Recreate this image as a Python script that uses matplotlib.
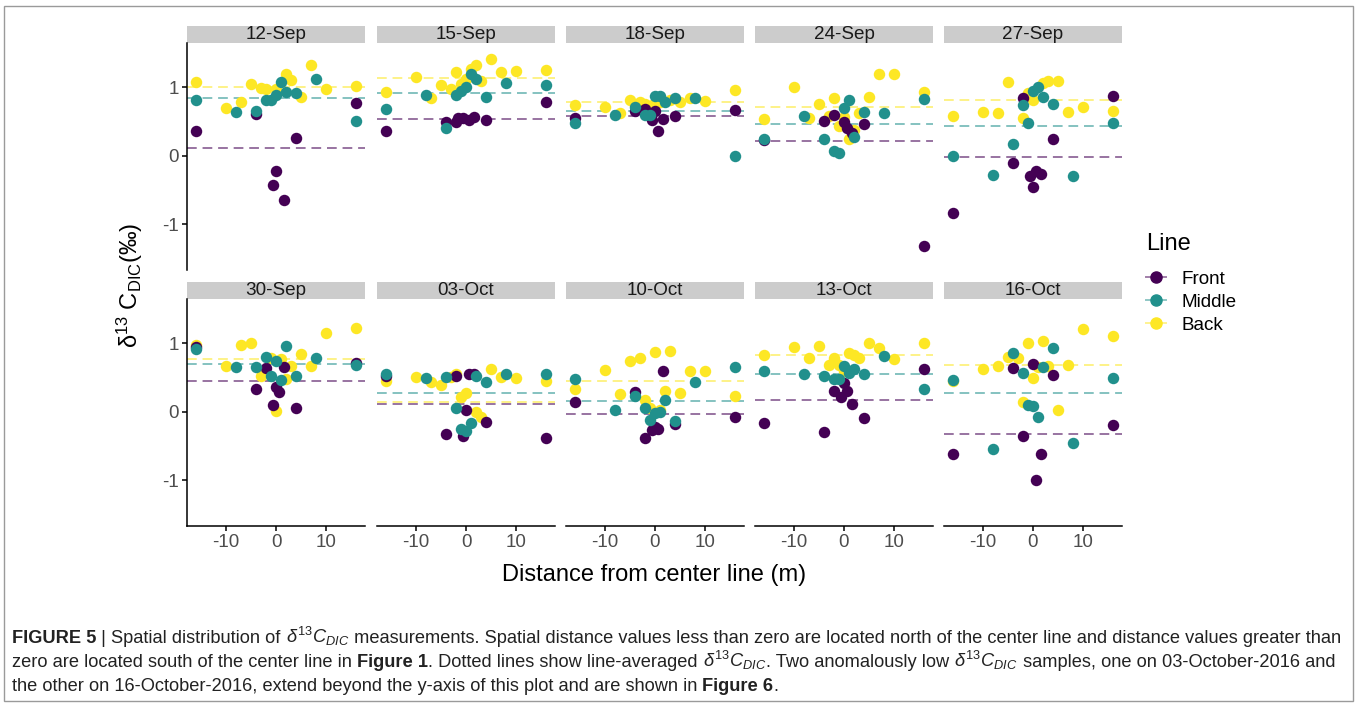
import numpy as np
import matplotlib
matplotlib.use("Agg")
import matplotlib.pyplot as plt
from matplotlib.patches import Rectangle
from matplotlib.lines import Line2D

plt.rcParams["font.family"] = ["Liberation Sans", "DejaVu Sans"]
plt.rcParams["axes.unicode_minus"] = False
plt.rcParams["mathtext.fontset"] = "custom"
plt.rcParams["mathtext.rm"] = "Liberation Sans"
plt.rcParams["mathtext.it"] = "Liberation Sans:italic"

dates = ["12-Sep", "15-Sep", "18-Sep", "24-Sep", "27-Sep",
         "30-Sep", "03-Oct", "10-Oct", "13-Oct", "16-Oct"]

# Front line samples, one list per date
front_x = [[-16, -4, 0, -0.5, 1.5, 4, 16],
           [-16, -4, -2, -1.5, -0.5, 0.5, 1.5, 4, 16],
           [-16, -4, -2, -0.5, 0, 0.5, 1.5, 4, 16],
           [-16, -4, -2, 0, 0.5, 1.5, 4, 16],
           [-16, -4, -2, -0.5, 0, 0.5, 1.5, 4, 16],
           [-16, -4, -2, -0.5, 0, 0.5, 1.5, 4, 16],
           [-16, -4, -2, -0.5, 0, 0.5, 1.5, 4, 16],
           [-16, -4, -2, -0.5, 0, 0.5, 1.5, 4, 16],
           [-16, -4, -2, -0.5, 0, 0.5, 1.5, 4, 16],
           [-16, -4, -2, 0, 0.5, 1.5, 4, 16]]
front_y = [[0.36, 0.61, -0.22, -0.42, -0.65, 0.26, 0.77],
           [0.36, 0.50, 0.50, 0.56, 0.56, 0.53, 0.57, 0.52, 0.79],
           [0.56, 0.65, 0.69, 0.53, 0.65, 0.37, 0.54, 0.58, 0.67],
           [0.23, 0.51, 0.60, 0.50, 0.41, 0.34, 0.47, -1.32],
           [-0.83, -0.11, 0.84, -0.30, -0.45, -0.22, -0.26, 0.24, 0.87],
           [0.95, 0.33, 0.64, 0.10, 0.36, 0.29, 0.66, 0.05, 0.72],
           [0.52, -0.33, 0.52, -0.35, 0.03, 0.55, 0.55, -0.15, -0.38],
           [0.14, 0.29, -0.39, -0.27, -0.22, -0.25, 0.59, -0.18, -0.08],
           [-0.16, -0.29, 0.31, 0.21, 0.42, 0.31, 0.11, -0.09, 0.62],
           [-0.61, 0.64, -0.35, 0.70, -1.00, -0.62, 0.54, -0.20]]

middle_x = [-16, -8, -4, -2, -1, 0, 1, 2, 4, 8, 16]
middle_y = [[0.81, 0.64, 0.65, 0.82, 0.81, 0.89, 1.08, 0.93, 0.92, 1.13, 0.51],
            [0.68, 0.89, 0.40, 0.89, 0.95, 1.00, 1.20, 1.12, 0.86, 1.07, 1.03],
            [0.48, 0.60, 0.72, 0.59, 0.59, 0.88, 0.88, 0.78, 0.85, 0.84, -0.01],
            [0.25, 0.58, 0.24, 0.07, 0.04, 0.70, 0.82, 0.28, 0.64, 0.62, 0.83],
            [0.00, -0.28, 0.17, 0.75, 0.48, 0.95, 1.00, 0.86, 0.76, -0.30, 0.48],
            [0.92, 0.66, 0.66, 0.80, 0.53, 0.75, 0.46, 0.96, 0.52, 0.79, 0.68],
            [0.56, 0.50, 0.51, 0.06, -0.25, -0.28, -0.17, 0.52, 0.44, 0.55, 0.56],
            [0.48, 0.03, 0.23, 0.06, -0.12, -0.02, 0.00, 0.18, -0.14, 0.44, 0.65],
            [0.59, 0.56, 0.52, 0.48, 0.48, 0.67, 0.57, 0.62, 0.56, 0.81, 0.33],
            [0.47, -0.55, 0.86, 0.57, 0.10, 0.08, -0.07, 0.66, 0.94, -0.45, 0.49]]

back_x = [[-16, -10, -7, -5, -3, -2, 0, 2, 3, 5, 7, 10, 16],
          [-16, -10, -7, -5, -3, -2, -1, 0, 1, 2, 3, 5, 7, 10, 16],
          [-16, -10, -7, -5, -3, -2, -0.5, 1, 3, 5, 7, 10, 16],
          [-16, -10, -7, -5, -3, -2, -1, 0, 1, 2, 3, 5, 7, 10, 16],
          [-16, -10, -7, -5, -2, -1, 0, 2, 3, 5, 7, 10, 16],
          [-16, -10, -7, -5, -3, -1, 0, 1, 2, 3, 5, 7, 10, 16],
          [-16, -10, -7, -5, -3, -2, -1, 0, 2, 3, 5, 7, 10, 16],
          [-16, -10, -7, -5, -3, -2, -1, 0, 1, 2, 3, 5, 7, 10, 16],
          [-16, -10, -7, -5, -3, -2, -1, 0, 1, 2, 3, 5, 7, 10, 16],
          [-16, -10, -7, -5, -3, -2, -1, 0, 1, 2, 3, 5, 7, 10, 16]]
back_y = [[1.08, 0.70, 0.79, 1.05, 0.99, 0.98, 0.97, 1.19, 1.11, 0.86, 1.33, 0.98, 1.02],
          [0.93, 1.15, 0.84, 1.03, 0.97, 1.22, 1.05, 1.12, 1.27, 1.33, 1.09, 1.41, 1.22, 1.24, 1.26],
          [0.75, 0.72, 0.63, 0.82, 0.78, 0.76, 0.75, 0.79, 0.82, 0.79, 0.84, 0.80, 0.96],
          [0.54, 1.00, 0.55, 0.76, 0.58, 0.84, 0.43, 0.57, 0.25, 0.38, 0.62, 0.86, 1.19, 1.19, 0.94],
          [0.58, 0.64, 0.63, 1.08, 0.55, 0.92, 0.82, 1.07, 1.09, 1.09, 0.64, 0.72, 0.65],
          [0.97, 0.67, 0.98, 1.00, 0.53, 0.79, 0.01, 0.77, 0.48, 0.67, 0.84, 0.67, 1.15, 1.23],
          [0.45, 0.51, 0.44, 0.39, 0.51, 0.55, 0.22, 0.28, 0.00, -0.07, 0.63, 0.51, 0.50, 0.45],
          [0.33, 0.61, 0.26, 0.74, 0.79, 0.17, 0.05, 0.87, 0.03, 0.30, 0.89, 0.28, 0.59, 0.60, 0.23],
          [0.83, 0.95, 0.78, 0.96, 0.69, 0.78, 0.68, 0.59, 0.86, 0.83, 0.78, 1.00, 0.94, 0.77, 1.00],
          [0.45, 0.62, 0.67, 0.80, 0.78, 0.14, 1.00, 0.49, 0.65, 1.04, 0.67, 0.02, 0.69, 1.21, 1.11]]

# line-averaged values (dashed lines)
front_mean = [0.11, 0.54, 0.58, 0.22, -0.02, 0.45, 0.11, -0.03, 0.17, -0.33]
middle_mean = [0.84, 0.92, 0.66, 0.46, 0.44, 0.70, 0.28, 0.16, 0.56, 0.28]
back_mean = [1.00, 1.14, 0.79, 0.72, 0.81, 0.77, 0.14, 0.45, 0.83, 0.68]

line_names = ["Front", "Middle", "Back"]
line_colors = ["#440154", "#21908C", "#FDE725"]

W, H = 1357, 708
fig = plt.figure(figsize=(W / 100, H / 100), dpi=100)

def fx(p):
    return p / W

def fy(p):
    return 1 - p / H

lefts = [187, 377, 566, 755, 944]
pw = 178
rows = [(43, 270), (299, 526)]
strip_h = 17
tick_col = "#4D4D4D"
dash = (0, (5, 3))
pt_size = 68

for i, d in enumerate(dates):
    r, c = divmod(i, 5)
    top, bot = rows[r]
    ax = fig.add_axes([fx(lefts[c]), fy(bot), pw / W, (bot - top) / H])
    ph = bot - top
    for m, col in zip([back_mean, middle_mean, front_mean], line_colors[::-1]):
        ax.axhline(m[i], color=col, alpha=0.55, lw=1.4, ls=dash, zorder=1)
    ax.scatter(back_x[i], back_y[i], s=pt_size, color=line_colors[2], lw=0, zorder=3)
    ax.scatter(front_x[i], front_y[i], s=pt_size, color=line_colors[0], lw=0, zorder=3)
    ax.scatter(middle_x, middle_y[i], s=pt_size, color=line_colors[1], lw=0, zorder=3)
    ax.set_xlim(-17.7, 17.7)
    ax.set_ylim(-1.67, 1.65)
    for s in ["top", "right"]:
        ax.spines[s].set_visible(False)
    ax.spines["left"].set_visible(c == 0)
    ax.spines["bottom"].set_visible(r == 1)
    for s in ["left", "bottom"]:
        ax.spines[s].set_linewidth(1.1)
    ax.set_xticks([-10, 0, 10])
    ax.set_yticks([-1, 0, 1])
    ax.tick_params(axis="both", length=3.6, width=1.1, pad=2.5,
                   labelsize=13.6, labelcolor=tick_col, color="black")
    if c == 0:
        ax.set_yticklabels(["-1", "0", "1"])
    else:
        ax.tick_params(axis="y", left=False, labelleft=False)
    if r == 1:
        ax.set_xticklabels(["-10", "0", "10"])
    else:
        ax.tick_params(axis="x", bottom=False, labelbottom=False)
    ax.add_patch(Rectangle((0, 1), 1, strip_h / ph, transform=ax.transAxes,
                           clip_on=False, fc="#CCCCCC", ec="none"))
    ax.text(0.5, 1 + strip_h / 2 / ph, d, transform=ax.transAxes, ha="center",
            va="center", fontsize=13.6, color="#1A1A1A")

fig.text(fx(654), fy(575), "Distance from center line (m)", ha="center",
         va="center", fontsize=17)
fig.text(fx(130), fy(285), "δ$^{13}$ C$_{\\mathrm{DIC}}$(‰)", ha="center",
         va="center", rotation=90, fontsize=17)

handles = [Line2D([], [], color=matplotlib.colors.to_rgba(c, 0.5), lw=1.4,
                  marker="o", markersize=8, markerfacecolor=c,
                  markeredgecolor=c) for c in line_colors]
leg = fig.legend(handles, line_names, title="Line", loc="upper left",
                 bbox_to_anchor=(fx(1137), fy(224)), frameon=False, fontsize=13.6,
                 title_fontproperties={"size": 17}, handlelength=1.05,
                 handletextpad=0.8, labelspacing=0.31, borderpad=0,
                 alignment="left")
leg._legend_box.sep = 11

# caption
cap_font = ["Liberation Sans Narrow", "Liberation Sans"]
math = "$\\delta^{13}C_{DIC}$"
cap_lines = [
    [("FIGURE 5", "bold"), (" | Spatial distribution of ", "normal"), (math, "normal"),
     (" measurements. Spatial distance values less than zero are located north of the center line and distance values greater than", "normal")],
    [("zero are located south of the center line in ", "normal"), ("Figure 1", "bold"),
     (". Dotted lines show line-averaged ", "normal"), (math, "normal"),
     (". Two anomalously low ", "normal"), (math, "normal"),
     (" samples, one on 03-October-2016 and", "normal")],
    [("the other on 16-October-2016, extend beyond the y-axis of this plot and are shown in ", "normal"),
     ("Figure 6", "bold"), (".", "normal")],
]
cap_base = [643, 667, 691]
renderer = fig.canvas.get_renderer()

def run_width(s, w, size):
    t = fig.text(0, 0, "x" + s + "x", fontsize=size, fontweight=w, family=cap_font)
    w1 = t.get_window_extent(renderer).width
    t.set_text("xx")
    w2 = t.get_window_extent(renderer).width
    t.remove()
    return w1 - w2

size = 10.0
total = sum(run_width(s, w, size) for s, w in cap_lines[0])
size = size * (1345 - 12) / total

for runs, yb in zip(cap_lines, cap_base):
    x = 12
    for s, w in runs:
        fig.text(fx(x), fy(yb), s, fontsize=size, fontweight=w, family=cap_font,
                 va="baseline", color="#222222")
        x += run_width(s, w, size)

fig.add_artist(Rectangle((fx(4), fy(701)), fx(1349), 695 / H, transform=fig.transFigure,
                         fill=False, ec="#9A9A9A", lw=1.0))

fig.savefig("out.png", dpi=100)
